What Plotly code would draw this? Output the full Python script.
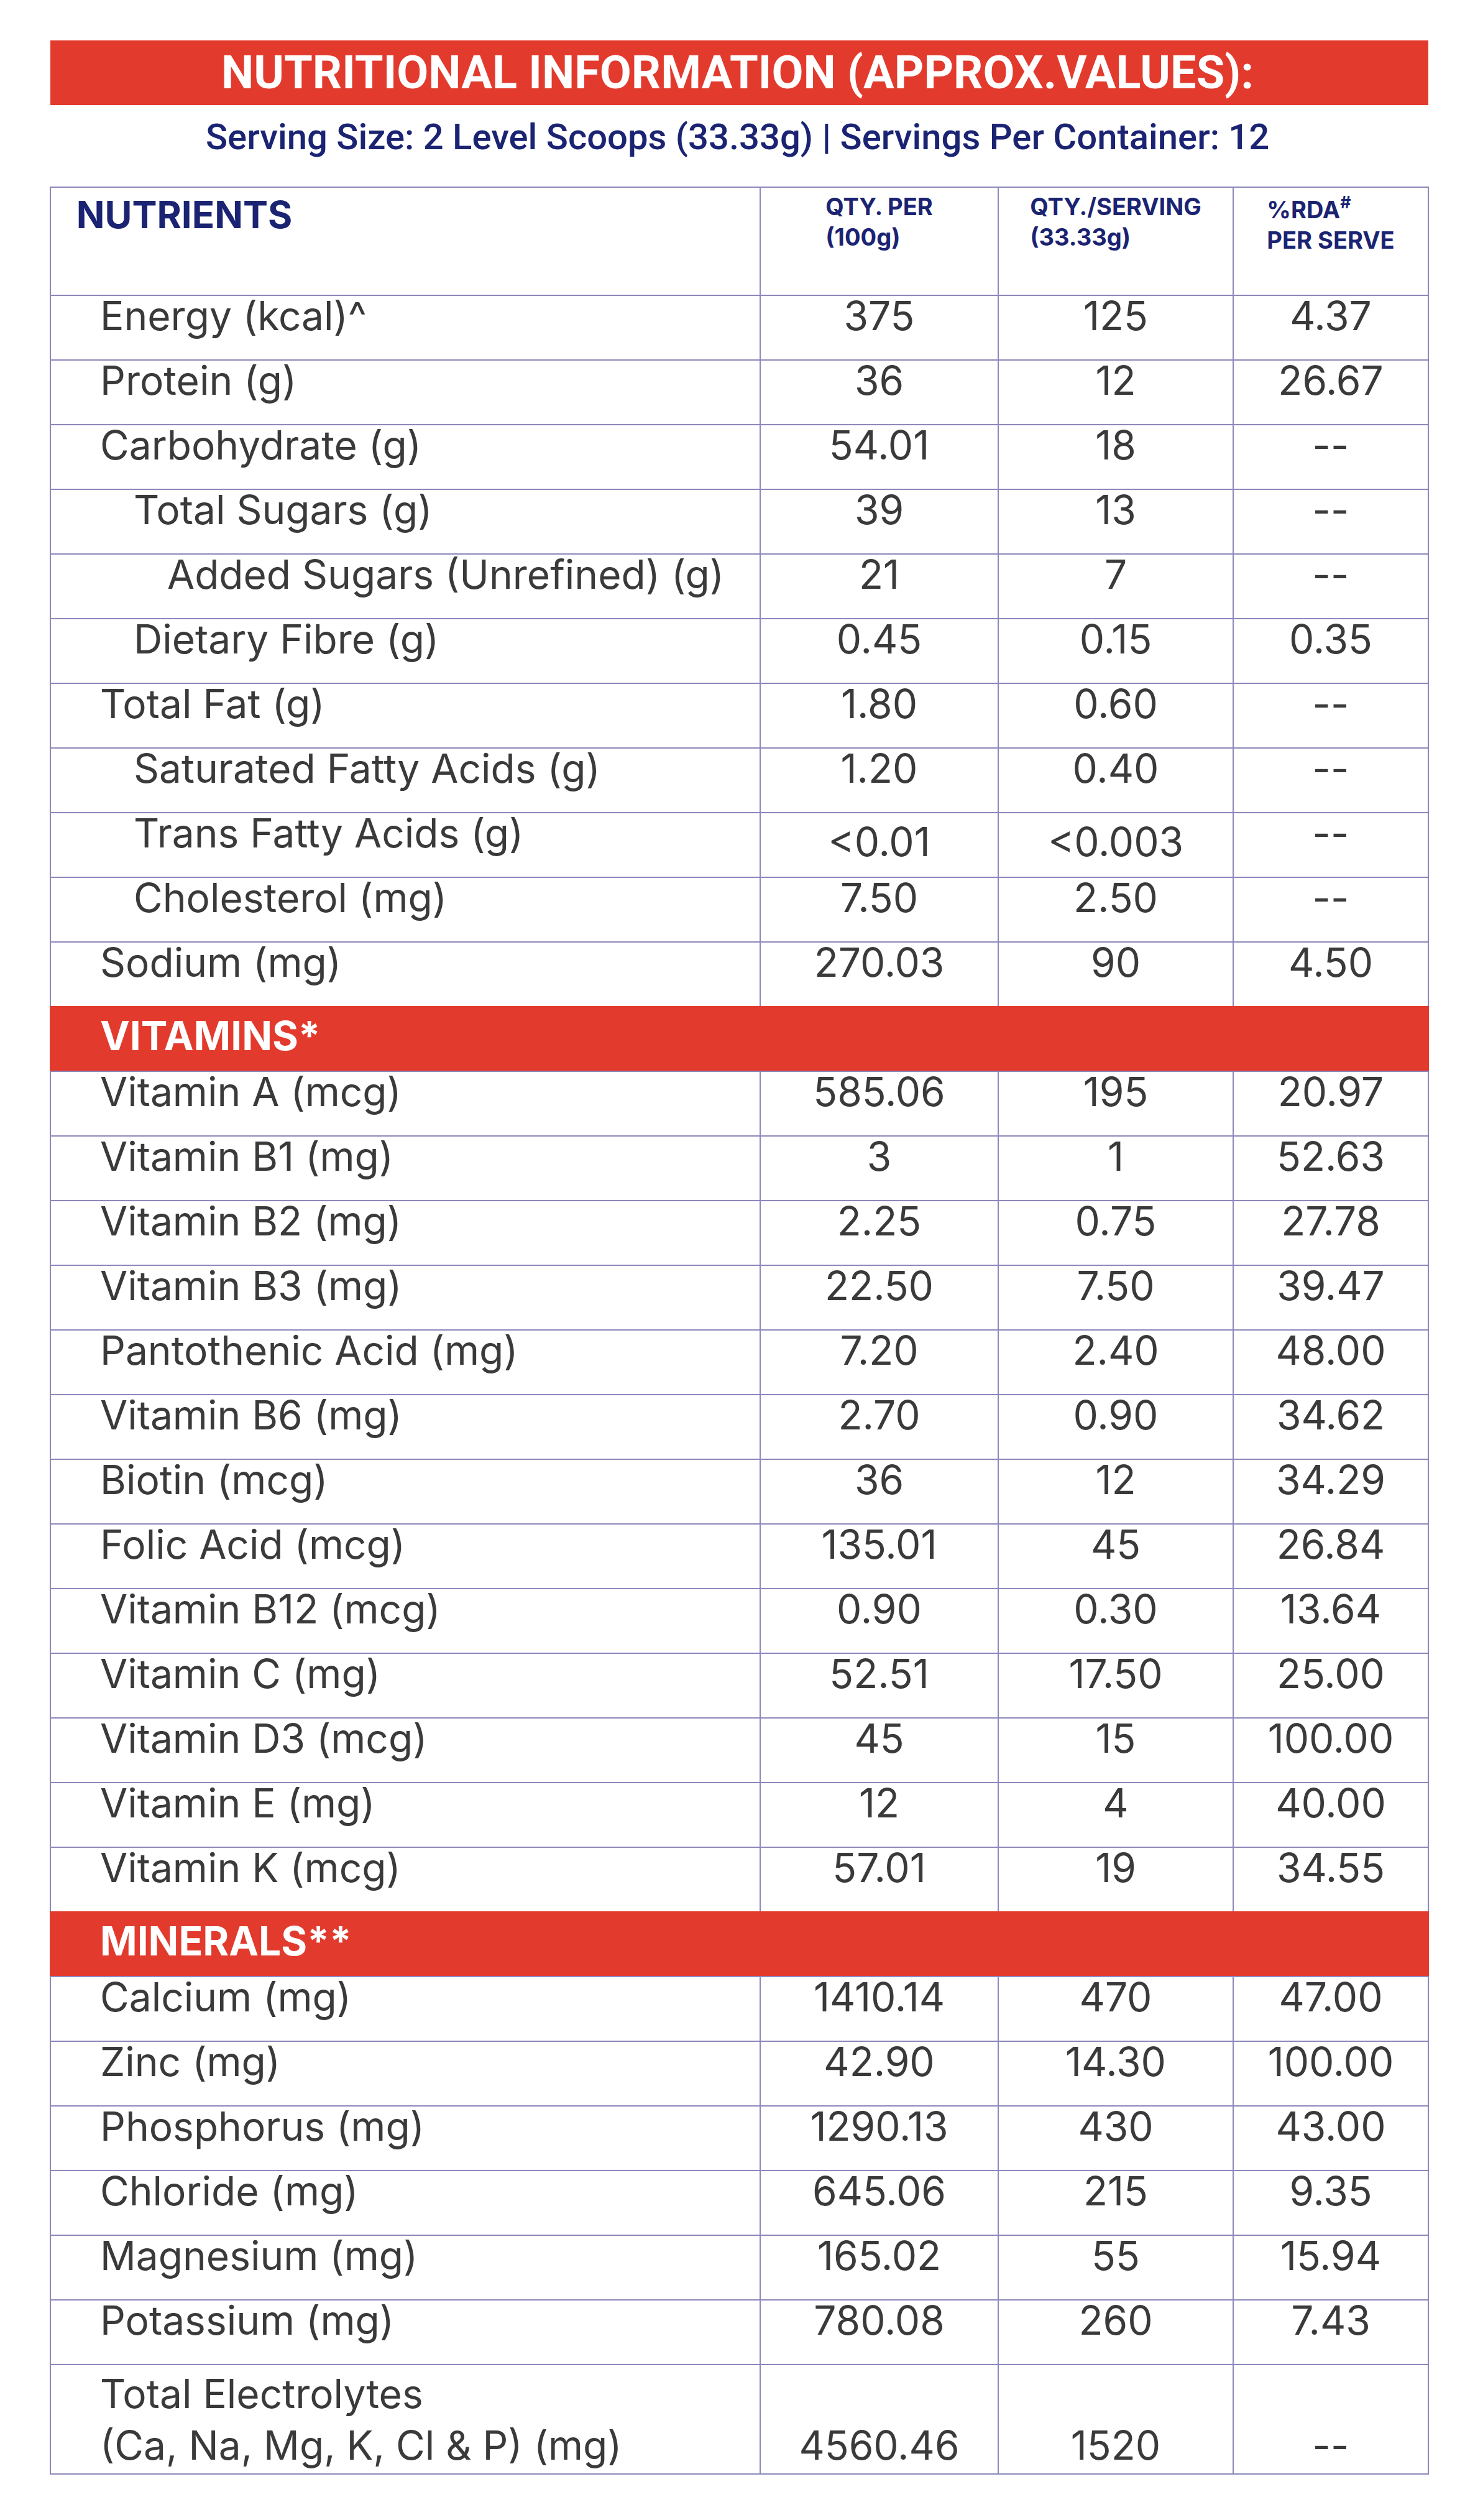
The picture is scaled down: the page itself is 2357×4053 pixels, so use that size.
import plotly.graph_objects as go

W, H = 2357, 4053
RED = "#e23b2e"
NAVY = "#1b2472"
GRID = "#8c88bb"
TXT = "#3a3a3a"

title = "NUTRITIONAL INFORMATION (APPROX.VALUES):"
subtitle = "Serving Size: 2 Level Scoops (33.33g) <b>|</b> Servings Per Container: 12"

headers = ["<b>NUTRIENTS</b>", "<b>QTY. PER<br>(100g)</b>",
           "<b>QTY./SERVING<br>(33.33g)</b>", "<b>%RDA<sup>#</sup><br>PER SERVE</b>"]

# (label, indent level) ; -1 marks section rows
nutrients = [
    ("Energy (kcal)^", 0), ("Protein (g)", 0), ("Carbohydrate (g)", 0),
    ("Total Sugars (g)", 1), ("Added Sugars (Unrefined) (g)", 2),
    ("Dietary Fibre (g)", 1), ("Total Fat (g)", 0),
    ("Saturated Fatty Acids (g)", 1), ("Trans Fatty Acids (g)", 1),
    ("Cholesterol (mg)", 1), ("Sodium (mg)", 0),
    ("VITAMINS*", -1),
    ("Vitamin A (mcg)", 0), ("Vitamin B1 (mg)", 0), ("Vitamin B2 (mg)", 0),
    ("Vitamin B3 (mg)", 0), ("Pantothenic Acid (mg)", 0), ("Vitamin B6 (mg)", 0),
    ("Biotin (mcg)", 0), ("Folic Acid (mcg)", 0), ("Vitamin B12 (mcg)", 0),
    ("Vitamin C (mg)", 0), ("Vitamin D3 (mcg)", 0), ("Vitamin E (mg)", 0),
    ("Vitamin K (mcg)", 0),
    ("MINERALS**", -1),
    ("Calcium (mg)", 0), ("Zinc (mg)", 0), ("Phosphorus (mg)", 0),
    ("Chloride (mg)", 0), ("Magnesium (mg)", 0), ("Potassium (mg)", 0),
    ("Total Electrolytes|(Ca, Na, Mg, K, Cl & P) (mg)", 0),
]
per_100g = ["375", "36", "54.01", "39", "21", "0.45", "1.80", "1.20", "<0.01", "7.50", "270.03",
            "",
            "585.06", "3", "2.25", "22.50", "7.20", "2.70", "36", "135.01", "0.90", "52.51", "45", "12", "57.01",
            "",
            "1410.14", "42.90", "1290.13", "645.06", "165.02", "780.08", "|4560.46"]
per_serving = ["125", "12", "18", "13", "7", "0.15", "0.60", "0.40", "<0.003", "2.50", "90",
               "",
               "195", "1", "0.75", "7.50", "2.40", "0.90", "12", "45", "0.30", "17.50", "15", "4", "19",
               "",
               "470", "14.30", "430", "215", "55", "260", "|1520"]
rda = ["4.37", "26.67", "--", "--", "--", "0.35", "--", "--", "--", "--", "4.50",
       "",
       "20.97", "52.63", "27.78", "39.47", "48.00", "34.62", "34.29", "26.84", "13.64", "25.00", "100.00", "40.00", "34.55",
       "",
       "47.00", "100.00", "43.00", "9.35", "15.94", "7.43", "|--"]

pad = "\u00a0" * 4


def two_line(s, prefix=""):
    # "|" splits a cell onto two lines; an empty first part keeps a blank line
    parts = s.split("|")
    return "<br>".join((prefix + p) if p else "\u00a0" for p in parts)


labels, fills, fcolors, lcolors = [], [], [], []
for name, lvl in nutrients:
    if lvl < 0:
        labels.append(pad + "<b>" + name + "</b>")
        fills.append(RED); fcolors.append("white"); lcolors.append(RED)
    else:
        labels.append(two_line(name, pad + "\u00a0" * (3 * lvl)))
        fills.append("white"); fcolors.append(TXT); lcolors.append(GRID)

fig = go.Figure(go.Table(
    domain=dict(x=[73 / W, 2290 / W], y=[0, 1 - 293 / H]),
    columnwidth=[1142, 383, 378, 314],
    header=dict(
        values=["\u00a0\u00a0" + headers[0]] + headers[1:],
        align=["left", "center", "center", "center"],
        font=dict(family="Inter", size=[60, 38, 38, 38], color=NAVY),
        fill_color="white", line_color=GRID, line_width=2, height=174,
    ),
    cells=dict(
        values=[labels] + [[two_line(v) for v in col] for col in (per_100g, per_serving, rda)],
        align=["left", "center", "center", "center"],
        font=dict(family="Inter", size=64, color=[fcolors] * 4),
        fill_color=[fills] * 4,
        line=dict(color=[lcolors] * 4, width=2),
        height=104,
    ),
))

fig.add_shape(type="rect", xref="paper", yref="paper",
              x0=73 / W, x1=2290 / W, y0=1 - 161 / H, y1=1 - 57 / H,
              fillcolor=RED, line_width=0)
fig.add_annotation(text="<b>" + title + "</b>", x=0.5, y=1 - 109 / H, xref="paper", yref="paper",
                   yanchor="middle", showarrow=False,
                   font=dict(family="Roboto", size=74, color="white"))
fig.add_annotation(text=subtitle, x=0.5, y=1 - 212 / H, xref="paper", yref="paper",
                   yanchor="middle", showarrow=False,
                   font=dict(family="Roboto", size=58, color=NAVY, weight=500))

fig.update_layout(width=W, height=H, margin=dict(l=0, r=0, t=0, b=0),
                  paper_bgcolor="white")
fig.write_html("out.html")
